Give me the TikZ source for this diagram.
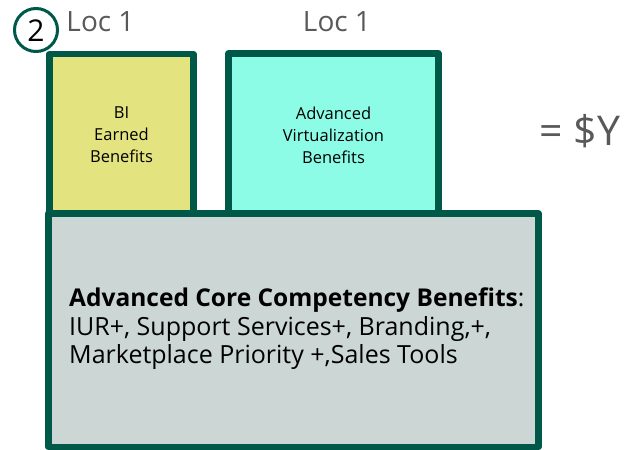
\documentclass[tikz,border=0pt]{standalone}
\usepackage{fontspec}
\setmainfont{Open Sans}
\definecolor{boxedge}{RGB}{0,89,72}
\definecolor{biyellow}{RGB}{227,228,128}
\definecolor{virtcyan}{RGB}{140,252,230}
\definecolor{coregray}{RGB}{204,214,212}
\definecolor{loctext}{RGB}{89,89,89}
\begin{document}
\begin{tikzpicture}[x=1pt,y=1pt]
\tikzstyle{every node}+=[inner sep=0pt]
\tikzstyle{benefitbox}=[draw=boxedge,line width=6.5pt,line join=round]
\tikzstyle{smalltext}=[align=center,font=\fontsize{16.5}{22}\selectfont]
\tikzstyle{loclabel}=[text=loctext,font=\fontsize{28}{28}\selectfont]
\useasboundingbox (0,0) rectangle (627,-450);
\draw[benefitbox,fill=biyellow] (49.5,-213) rectangle (193.5,-54);
\draw[benefitbox,fill=virtcyan] (228.5,-213) rectangle (438.5,-53.5);
\draw[benefitbox,fill=coregray] (48.5,-447) rectangle (538.5,-213.5);
\node[smalltext] (bi) at (121.5,-135) {BI\\Earned\\Benefits};
\node[smalltext] (virt) at (333.5,-135) {Advanced\\Virtualization\\Benefits};
\node[loclabel] (locone) at (100.5,-22) {Loc 1};
\node[loclabel] (loctwo) at (337,-22) {Loc 1};
\draw[boxedge,line width=3pt,fill=white] (36,-30) circle (21.5);
\node[font=\fontsize{30}{30}\selectfont] (step) at (36,-31) {2};
\node[loclabel,font=\fontsize{41}{41}\selectfont] (total) at (580,-131) {= \$Y};
\node[anchor=west,align=left,font=\fontsize{25}{28.5}\selectfont] (core) at (69,-329)
  {{\fontsize{24.5}{28.5}\selectfont\textbf{Advanced Core Competency Benefits}:}\\IUR+, Support Services+, Branding,+,\\Marketplace Priority +,Sales Tools};
\end{tikzpicture}
\end{document}
